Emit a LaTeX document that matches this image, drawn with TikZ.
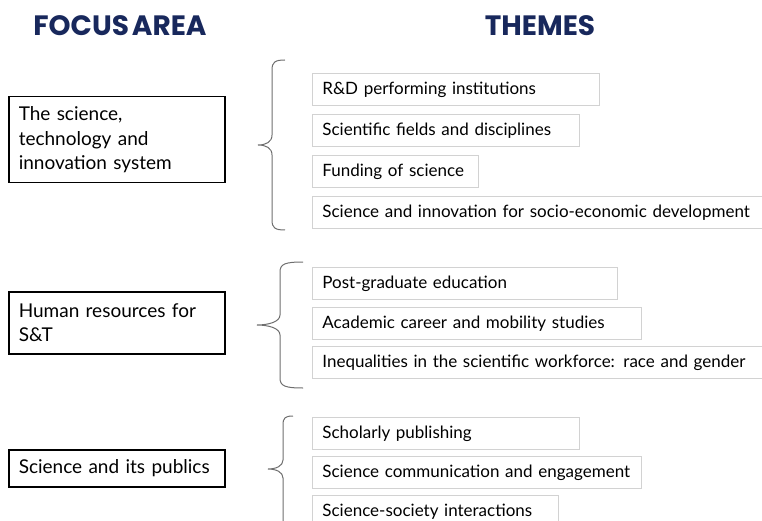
\documentclass[tikz,border=0pt]{standalone}
\usepackage{fontspec}
\setmainfont{Lato}
\newfontfamily\headfont{Poppins}
\usetikzlibrary{positioning}
\definecolor{headblue}{RGB}{24,40,92}
\definecolor{themegray}{RGB}{210,210,210}
\definecolor{bracegray}{RGB}{110,110,110}

\begin{document}
\begin{tikzpicture}[x=1pt,y=-1pt,
	focus/.style={draw=black,line width=1.5pt,anchor=north west,align=left,
		minimum width=216pt,text width=196pt,inner xsep=10pt,inner ysep=0pt,
		font=\fontsize{19}{24.5}\selectfont},
	theme/.style={draw=themegray,line width=0.8pt,anchor=north west,align=left,
		minimum height=32pt,inner xsep=10pt,inner ysep=0pt,text height=13pt,text depth=2.5pt,
		font=\fontsize{17}{20}\selectfont},
	heading/.style={text=headblue,font=\headfont\fontsize{28}{30}\bfseries\selectfont},
	bracestyle/.style={draw=bracegray,line width=1pt}]
	%\draw[help lines] (0,0) grid[step=50pt] (762,521);
	\useasboundingbox (0,0) rectangle (762,521);
	\clip (0,0) rectangle (762,521);

	\node[heading] (focushead) at (120,26) {FOCUS\hspace{-3pt} AREA};
	\node[heading] (themehead) at (540,26) {THEMES};

	% focus areas
	\node[focus,minimum height=86pt] (stisystem) at (8,96) {The science,\\technology and\\innovation system};
	\node[focus,minimum height=62pt] (humanres) at (8,291) {Human resources for\\S\&T};
	\node[focus,minimum height=37pt] (publics) at (8,449) {Science and its publics};

	% themes of the first area
	\node[theme,minimum width=287pt,text width=267pt] (rnd) at (312,73) {R\&D performing institutions};
	\node[theme,minimum width=267pt,text width=247pt] (fields) at (312,114) {Scientific fields and disciplines};
	\node[theme,minimum width=166pt,text width=146pt] (funding) at (312,155) {Funding of science};
	\node[theme,minimum width=470pt,text width=450pt] (socioeco) at (312,196) {Science and innovation for socio-economic development};

	% themes of the second area
	\node[theme,minimum width=305pt,text width=285pt] (postgrad) at (312,267) {Post-graduate education};
	\node[theme,minimum width=329pt,text width=309pt] (career) at (312,307) {Academic career and mobility studies};
	\node[theme,minimum width=470pt,text width=450pt] (inequal) at (312,346) {Inequalities in the scientific workforce: race and gender};

	% themes of the third area
	\node[theme,minimum width=267pt,text width=247pt] (publish) at (312,417) {Scholarly publishing};
	\node[theme,minimum width=329pt,text width=309pt] (engage) at (312,456) {Science communication and engagement};
	\node[theme,minimum width=246pt,text width=226pt] (society) at (312,495) {Science-society interactions};

	% braces
	\draw[bracestyle] (285,60) .. controls (275,60) and (272,62) .. (272,70) -- (272,135)
		.. controls (272,142) and (266,145) .. (258,145) coordinate (stitip)
		.. controls (266,145) and (272,148) .. (272,155) -- (272,220)
		.. controls (272,228) and (275,230) .. (285,230);
	\draw[bracestyle] (303,262) .. controls (285,262) and (280,264) .. (280,272) -- (280,315)
		.. controls (280,322) and (268,325) .. (257,325) coordinate (hrtip)
		.. controls (268,325) and (280,328) .. (280,335) -- (280,378)
		.. controls (280,386) and (285,388) .. (303,388);
	\draw[bracestyle] (293,416) .. controls (285,416) and (283,418) .. (283,425) -- (283,460)
		.. controls (283,466) and (276,469) .. (268,469) coordinate (pubtip)
		.. controls (276,469) and (283,472) .. (283,478) -- (283,530);
\end{tikzpicture}
\end{document}
